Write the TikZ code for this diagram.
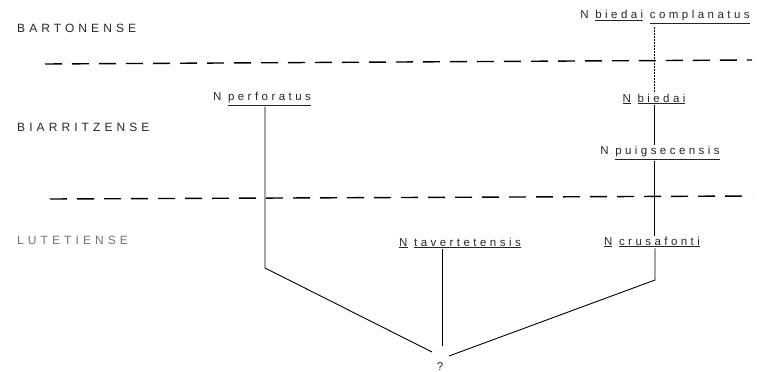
\documentclass[tikz,border=0pt]{standalone}
\usepackage{fontspec}
\setmainfont{Liberation Sans}[LetterSpace=30]
\newcommand{\ep}[1]{\underline{#1}}
\begin{document}
\begin{tikzpicture}[x=1pt,y=1pt,
  lab/.style={font=\fontsize{11.5}{13}\selectfont, text=black!85, inner sep=1pt},
  stage/.style={lab, anchor=west, font=\fontsize{12}{14}\selectfont\addfontfeature{LetterSpace=34}},
  bound/.style={line width=1.4pt, dash pattern=on 17pt off 10pt},
  stem/.style={line width=0.9pt},
  faint/.style={line width=0.5pt, densely dotted}]
\useasboundingbox (0,0) rectangle (766,-372);

% stage names
\node[stage] (bart) at (16,-28) {BARTONENSE};
\node[stage] (biar) at (16,-127) {BIARRITZENSE};
\node[stage, text=black!55] (lute) at (16,-240) {LUTETIENSE};

% stage boundaries
\coordinate (b1w) at (45,-64);
\coordinate (b1e) at (752,-60);
\coordinate (b2w) at (50,-199);
\coordinate (b2e) at (752,-196);
\draw[bound] (b1w) -- (b1e);
\draw[bound] (b2w) -- (b2e);

% taxa
\node[lab] (comp) at (665,-17) {N \ep{biedai} \ep{complanatus}};
\node[lab] (bied) at (654,-99) {\ep{N} \ep{biedai}};
\node[lab] (puig) at (660,-153) {N \ep{puigsecensis}};
\node[lab] (crus) at (652,-242) {\ep{N} \ep{crusafonti}};
\node[lab] (tave) at (460,-243) {\ep{N} \ep{tavertetensis}};
\node[lab] (perf) at (262,-99) {N \ep{perforatus}};
\node[lab] (root) at (440,-366) {?};

% branch points
\coordinate (pk) at (265,-268);
\coordinate (ck) at (655,-280);
\coordinate (tk) at (442,-346);
\coordinate (lj) at (432,-352);
\coordinate (rj) at (449,-356);

% lineage
\draw[faint] (comp.south -| bied.north) ++(0,-2) coordinate (c0) -- (bied.north -| c0);
\draw[stem] (bied.south) -- (puig.north -| bied.south);
\draw[stem] (puig.south -| bied.south) -- (crus.north -| bied.south);
\draw[stem] (crus.south -| ck) -- (ck) -- (rj);
\draw[stem] (tave.south -| tk) -- (tk);
\draw[stem] (perf.south -| pk) -- (pk) -- (lj);
\end{tikzpicture}
\end{document}
